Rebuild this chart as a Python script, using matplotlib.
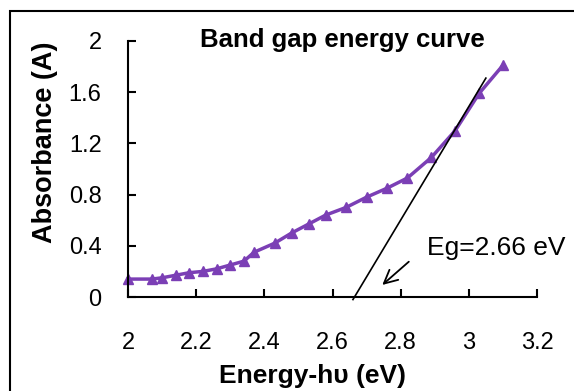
#! /usr/bin/env python
import matplotlib
matplotlib.use('Agg')
from matplotlib import pyplot as plt
from matplotlib.patches import Rectangle
from matplotlib.ticker import FormatStrFormatter

# photon energy (eV) and absorbance
energy = [2.00, 2.07, 2.10, 2.14, 2.18, 2.22, 2.26, 2.30, 2.34, 2.37, 2.43,
          2.48, 2.53, 2.58, 2.64, 2.70, 2.76, 2.82, 2.89, 2.96, 3.03, 3.10]
absorbance = [0.14, 0.14, 0.15, 0.17, 0.19, 0.20, 0.22, 0.25, 0.28, 0.35, 0.42,
              0.50, 0.57, 0.64, 0.70, 0.78, 0.85, 0.93, 1.09, 1.30, 1.59, 1.81]

# tangent used to extrapolate the band gap
tangent_x = [2.66, 3.05]
tangent_y = [-0.02, 1.71]
eg_label = 'Eg=2.66 eV'

xticks = [2, 2.2, 2.4, 2.6, 2.8, 3, 3.2]
yticks = [0, 0.4, 0.8, 1.2, 1.6, 2]

plt.rcParams['font.family'] = ['Liberation Sans', 'DejaVu Sans']

fig = plt.figure(figsize=(5.74, 3.91), dpi=100)
ax = fig.add_axes([128/574, 1 - 297/391, 409/574, 256/391])

ax.plot(energy, absorbance, '-^', color='#7b3fb5', lw=2.5, ms=7, clip_on=False)
ax.plot(tangent_x, tangent_y, '-', color='black', lw=1.2, clip_on=False)

ax.annotate('', xy=(2.74, 0.08), xytext=(2.83, 0.29),
            arrowprops=dict(arrowstyle='->', color='black', lw=1.3,
                            mutation_scale=24))
ax.text(2.878, 0.33, eg_label, fontsize=19, va='baseline', ha='left')

ax.set_xlim(2, 3.2)
ax.set_ylim(0, 2)
ax.set_xticks(xticks)
ax.set_yticks(yticks)
ax.xaxis.set_major_formatter(FormatStrFormatter('%g'))
ax.yaxis.set_major_formatter(FormatStrFormatter('%g'))
ax.tick_params(direction='in', length=6, width=1.5, labelsize=17)
ax.tick_params(axis='x', pad=25)
ax.tick_params(axis='y', pad=19)

for side in ['top', 'right']:
    ax.spines[side].set_visible(False)
for side in ['left', 'bottom']:
    ax.spines[side].set_linewidth(1.5)

ax.text(0.523, 0.977, 'Band gap energy curve', transform=ax.transAxes,
        fontsize=18.5, fontweight='bold', ha='center', va='baseline')
ax.set_xlabel('Energy-h\u03c5 (eV)', fontsize=19, fontweight='bold')
ax.set_ylabel('Absorbance (A)', fontsize=19.5, fontweight='bold')
ax.xaxis.set_label_coords(0.452, -0.262)
ax.yaxis.set_label_coords(-0.172, 0.605)

# chart area border, cut off at the right and bottom
fig.add_artist(Rectangle((10/574, -0.1), 1.2, 1 - 11/391 + 0.1, fill=False,
                         lw=1.5, ec='black', transform=fig.transFigure))

fig.savefig('out.png', dpi=100)
